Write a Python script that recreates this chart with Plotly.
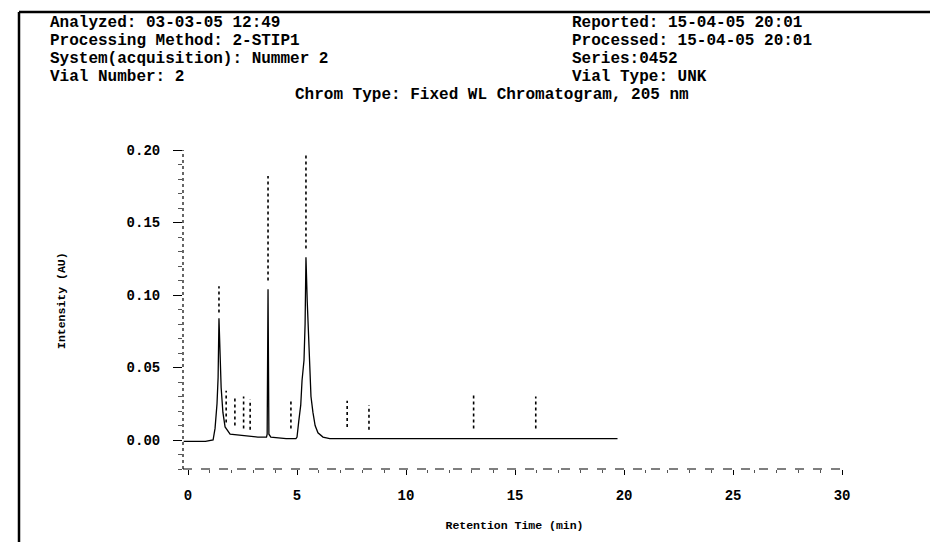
import plotly.graph_objects as go

# ---- data ----
time_min = [-0.2, 0.8, 1.15, 1.24, 1.33, 1.38, 1.42, 1.47, 1.52, 1.60, 1.70, 1.93, 2.6, 3.2, 3.6,
            3.63, 3.67, 3.71, 3.8, 4.5, 4.95,
            5.0, 5.08, 5.17, 5.23, 5.32, 5.37, 5.41, 5.47, 5.55, 5.64, 5.73, 5.83, 5.96, 6.19, 6.5, 19.7]
intensity_au = [-0.001, -0.001, 0.000, 0.008, 0.025, 0.043, 0.084, 0.060, 0.036, 0.019, 0.009, 0.004, 0.003, 0.002, 0.002,
                0.004, 0.104, 0.004, 0.002, 0.001, 0.001,
                0.002, 0.013, 0.024, 0.041, 0.055, 0.080, 0.126, 0.095, 0.060, 0.030, 0.019, 0.010, 0.005, 0.002, 0.001, 0.001]

# peak label positions (illegible vertical labels in the scan)
label_time = [1.42, 3.67, 5.41, 1.75, 2.15, 2.55, 2.85, 4.72, 7.3, 8.3, 13.1, 15.95]
label_low = [0.088, 0.110, 0.132, 0.012, 0.010, 0.008, 0.007, 0.008, 0.009, 0.007, 0.008, 0.008]
label_high = [0.106, 0.182, 0.197, 0.034, 0.030, 0.030, 0.028, 0.027, 0.027, 0.024, 0.032, 0.030]

x_ticks = [0, 5, 10, 15, 20, 25, 30]
y_ticks = [0.00, 0.05, 0.10, 0.15, 0.20]

header_left = ["Analyzed: 03-03-05 12:49", "Processing Method: 2-STIP1",
               "System(acquisition): Nummer 2", "Vial Number: 2"]
header_right = ["Reported: 15-04-05 20:01", "Processed: 15-04-05 20:01",
                "Series:0452", "Vial Type: UNK"]
chrom_type = "Chrom Type: Fixed WL Chromatogram, 205 nm"
x_title = "Retention Time (min)"
y_title = "Intensity (AU)"

# ---- layout geometry (pixels) ----
W, H = 938, 542
L, R, T, B = 175, 838, 142, 461
def px(xp):
    return (xp - L) / (R - L)
def py(yp):
    return (B - yp) / (B - T)

MONO = "Liberation Mono, Courier New, monospace"
HFONT = dict(family=MONO, size=16, color="black", weight="bold")

fig = go.Figure()

fig.add_trace(go.Scatter(x=time_min, y=intensity_au, mode="lines",
                         line=dict(color="black", width=1.3), hoverinfo="skip", showlegend=False))

lx, ly = [], []
for t, lo, hi in zip(label_time, label_low, label_high):
    lx += [t, t, None]
    ly += [lo, hi, None]
fig.add_trace(go.Scatter(x=lx, y=ly, mode="lines",
                         line=dict(color="black", width=1.6, dash="dot"),
                         hoverinfo="skip", showlegend=False))

annotations = []
rows_y = [15, 33, 51, 69]
for txt, yy in zip(header_left, rows_y):
    annotations.append(dict(text=txt, x=px(40), y=py(yy), xref="paper", yref="paper",
                            xanchor="left", yanchor="middle", showarrow=False, font=HFONT))
for txt, yy in zip(header_right, rows_y):
    annotations.append(dict(text=txt, x=px(562), y=py(yy), xref="paper", yref="paper",
                            xanchor="left", yanchor="middle", showarrow=False, font=HFONT))
annotations.append(dict(text=chrom_type, x=px(484), y=py(87), xref="paper", yref="paper",
                        xanchor="center", yanchor="middle", showarrow=False, font=HFONT))
annotations.append(dict(text=y_title, x=px(53), y=py(292), xref="paper", yref="paper",
                        xanchor="center", yanchor="middle", showarrow=False, textangle=-90,
                        font=dict(family=MONO, size=11.5, color="black", weight="bold")))

shapes = [
    dict(type="line", xref="paper", yref="paper", x0=px(11), x1=px(938), y0=py(4), y1=py(4),
         line=dict(color="black", width=2.5)),
    dict(type="line", xref="paper", yref="paper", x0=px(11), x1=px(11), y0=py(4), y1=py(542),
         line=dict(color="black", width=2.5)),
    dict(type="line", xref="paper", yref="paper", x0=0, x1=1, y0=0, y1=0,
         line=dict(color="black", width=1.2, dash="dash")),
    dict(type="line", xref="paper", yref="paper", x0=0, x1=0, y0=0, y1=1,
         line=dict(color="black", width=1.2, dash="dot")),
]

fig.update_layout(
    width=W, height=H,
    margin=dict(l=L, r=W - R, t=T, b=H - B),
    paper_bgcolor="white", plot_bgcolor="white",
    annotations=annotations, shapes=shapes,
    xaxis=dict(range=[-0.23, 30.18], tickvals=x_ticks, ticktext=[str(v) for v in x_ticks],
               showgrid=False, zeroline=False, showline=False,
               ticks="outside", ticklen=5, tickcolor="black", ticklabelstandoff=8,
               minor=dict(ticks="outside", ticklen=3, dtick=1, tickcolor="#555"),
               tickfont=dict(family=MONO, size=14, color="black", weight="bold"),
               title=dict(text=x_title, standoff=18,
                          font=dict(family=MONO, size=11.5, color="black", weight="bold"))),
    yaxis=dict(range=[-0.020, 0.200], tickvals=y_ticks, ticktext=["%.2f" % v for v in y_ticks],
               showgrid=False, zeroline=False, showline=False,
               ticks="outside", ticklen=9, tickcolor="black", ticklabelstandoff=10,
               minor=dict(ticks="outside", ticklen=4, dtick=0.01, tickcolor="#555"),
               tickfont=dict(family=MONO, size=14, color="black", weight="bold")),
)

fig.write_html("out.html")
